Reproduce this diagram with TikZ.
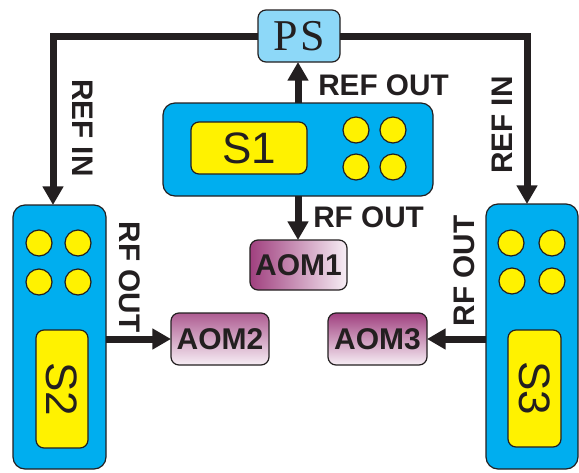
\documentclass[tikz,border=0pt]{standalone}
\usepackage{fontspec}
\setmainfont{Liberation Sans}
\newfontfamily\psfont{Liberation Serif}
\usetikzlibrary{arrows.meta}
\newlength\px
\setlength\px{0.75pt}
\definecolor{ink}{HTML}{231F20}
\definecolor{cyanbox}{HTML}{00AEEF}
\definecolor{ybox}{HTML}{FFF200}
\definecolor{psblue}{HTML}{8DD8F8}
\definecolor{aomdark}{HTML}{A0407F}
\definecolor{aomlight}{HTML}{F7EEF5}
\tikzset{
  devbox/.style={draw=ink, line width=0.9pt, fill=cyanbox, rounded corners=9pt, inner sep=0pt, outer sep=0pt},
  dispbox/.style={draw=ink, line width=0.9pt, fill=ybox, rounded corners=6pt, inner sep=0pt, outer sep=0pt, text=ink, font=\fontsize{33}{36}\selectfont},
  knob/.style={draw=ink, line width=0.9pt, fill=ybox, circle, minimum size=26*\px, inner sep=0pt},
  aombox/.style={draw=ink, line width=0.9pt, rounded corners=6pt, inner sep=0pt, outer sep=0pt, text=ink, font=\bfseries\fontsize{22.5}{24}\selectfont},
  conn/.style={draw=ink, line width=5.25pt, -{Triangle[length=14pt,width=15pt]}},
  wire/.style={draw=ink, line width=5.25pt},
  lbl/.style={text=ink, font=\bfseries\fontsize{22.3}{24}\selectfont, inner sep=0pt}
}
\begin{document}
\begin{tikzpicture}[x=0.75pt, y=-0.75pt]
\useasboundingbox (0,0) rectangle (579,472);
% PS
\node[draw=ink, line width=0.9pt, fill=psblue, rounded corners=6pt, inner sep=0pt, outer sep=0pt,
      minimum width=82*\px, minimum height=52*\px, text=ink, font=\psfont\fontsize{33}{36}\selectfont] (PS) at (299,36) {P\kern2pt S};
% S1
\node[devbox, minimum width=270*\px, minimum height=93*\px] (S1) at (298,149.5) {};
\node[dispbox, minimum width=116*\px, minimum height=52*\px] (S1d) at (249,148) {S1};
\node[knob] (S1k1) at (356,130) {};
\node[knob] (S1k2) at (393,130) {};
\node[knob] (S1k3) at (356,167) {};
\node[knob] (S1k4) at (393,167) {};
% S2
\node[devbox, minimum width=93*\px, minimum height=264*\px] (S2) at (59.5,337) {};
\node[dispbox, minimum width=52*\px, minimum height=118*\px] (S2d) at (62,389) {};
\node[text=ink, font=\fontsize{33}{36}\selectfont, rotate=-90] (S2t) at (S2d) {S2};
\node[knob] (S2k1) at (39,243) {};
\node[knob] (S2k2) at (78,243) {};
\node[knob] (S2k3) at (39,282) {};
\node[knob] (S2k4) at (78,282) {};
% S3
\node[devbox, minimum width=92*\px, minimum height=265*\px] (S3) at (532,336.5) {};
\node[dispbox, minimum width=53*\px, minimum height=117*\px] (S3d) at (534.5,388.5) {};
\node[text=ink, font=\fontsize{33}{36}\selectfont, rotate=-90] (S3t) at (S3d) {S3};
\node[knob] (S3k1) at (511,243) {};
\node[knob] (S3k2) at (552,243) {};
\node[knob] (S3k3) at (512,281) {};
\node[knob] (S3k4) at (552,281) {};
% AOMs
\node[aombox, left color=aomdark, right color=aomlight, minimum width=97*\px, minimum height=50*\px] (AOM1) at (298.5,265) {AOM1};
\node[aombox, top color=aomdark!85, bottom color=aomlight, minimum width=98*\px, minimum height=52*\px] (AOM2) at (220,339) {AOM2};
\node[aombox, top color=aomdark, bottom color=aomlight, minimum width=99*\px, minimum height=52*\px] (AOM3) at (377.5,339) {AOM3};
% connectors
\coordinate (cL) at (53,36);
\coordinate (cR) at (527,36);
\draw[wire] (PS.west) -- (cL);
\draw[conn] ([yshift=-2.6pt]cL) -- (cL |- S2.north);
\draw[wire] (PS.east) -- (cR);
\draw[conn] ([yshift=-2.6pt]cR) -- (cR |- S3.north);
\draw[wire, line cap=rect, line width=5.25pt] (cL) -- ([xshift=0.1pt]cL);
\draw[wire, line cap=rect, line width=5.25pt] (cR) -- ([xshift=-0.1pt]cR);
\draw[conn] (S1.north) -- (S1.north |- PS.south);
\draw[conn] (S1.south) -- (S1.south |- AOM1.north);
\draw[conn] (S2.east |- AOM2.west) -- (AOM2.west);
\draw[conn] (S3.west |- AOM3.east) -- (AOM3.east);
% labels
\node[lbl, anchor=west] (lRefOut) at (318,85) {REF OUT};
\node[lbl, anchor=west] (lRfOut1) at (313,217) {RF OUT};
\node[lbl, rotate=-90] (lRefInL) at (82.5,128) {REF IN};
\node[lbl, rotate=90] (lRefInR) at (502.5,125) {REF IN};
\node[lbl, rotate=-90] (lRfOut2) at (130,277) {RF OUT};
\node[lbl, rotate=90] (lRfOut3) at (464,271) {RF OUT};
\end{tikzpicture}
\end{document}
